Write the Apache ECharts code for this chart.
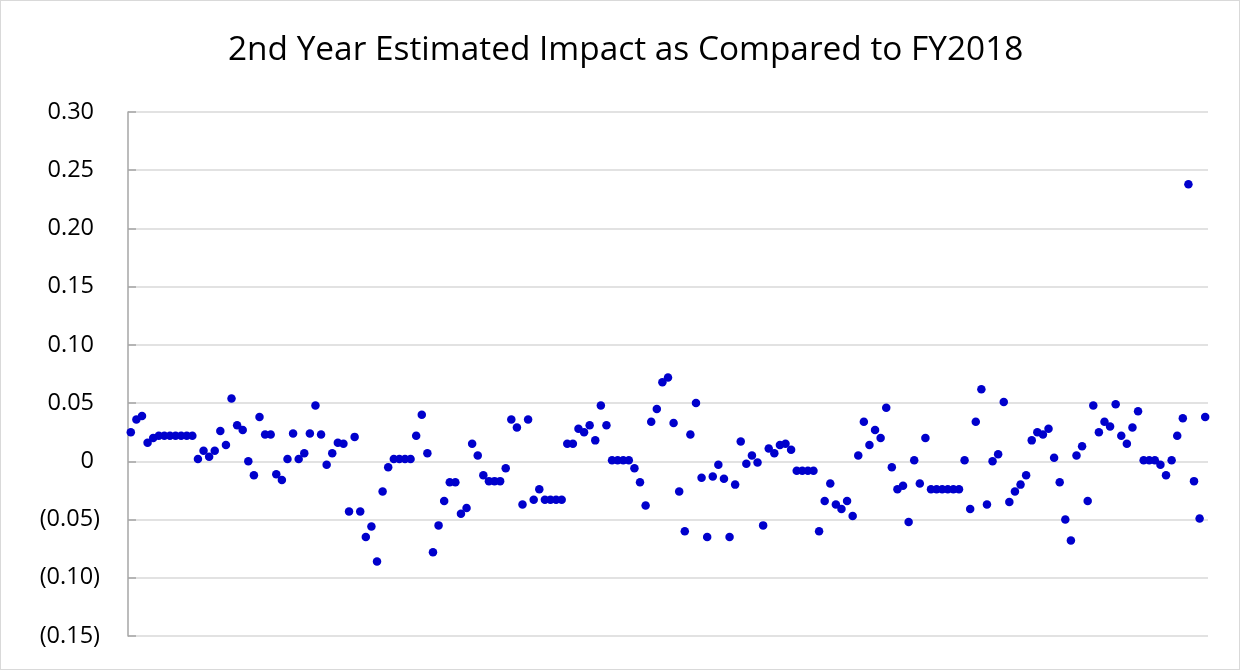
<!DOCTYPE html>
<html>
<head>
<meta charset="utf-8">
<script src="https://cdn.jsdelivr.net/npm/echarts@6/dist/echarts.min.js"></script>
<style>
  html, body { margin: 0; padding: 0; background: #ffffff; }
  #frame { position: absolute; left: 0; top: 0; width: 1238px; height: 668px; border: 1px solid #d9d9d9; }
  #chart { position: absolute; left: 0; top: 0; width: 1240px; height: 670px; }
</style>
</head>
<body>
<div id="frame"></div>
<div id="chart"></div>
<script>
const titleText = '2nd Year Estimated Impact as Compared to FY2018';
const yTicks = [-0.15, -0.10, -0.05, 0, 0.05, 0.10, 0.15, 0.20, 0.25, 0.30];
const impact = [
  0.025, 0.036, 0.039, 0.016, 0.020, 0.022, 0.022, 0.022, 0.022, 0.022,
  0.022, 0.022, 0.002, 0.009, 0.004, 0.009, 0.026, 0.014, 0.054, 0.031,
  0.027, 0.000, -0.012, 0.038, 0.023, 0.023, -0.011, -0.016, 0.002, 0.024,
  0.002, 0.007, 0.024, 0.048, 0.023, -0.003, 0.007, 0.016, 0.015, -0.043,
  0.021, -0.043, -0.065, -0.056, -0.086, -0.026, -0.005, 0.002, 0.002, 0.002,
  0.002, 0.022, 0.040, 0.007, -0.078, -0.055, -0.034, -0.018, -0.018, -0.045,
  -0.040, 0.015, 0.005, -0.012, -0.017, -0.017, -0.017, -0.006, 0.036, 0.029,
  -0.037, 0.036, -0.033, -0.024, -0.033, -0.033, -0.033, -0.033, 0.015, 0.015,
  0.028, 0.025, 0.031, 0.018, 0.048, 0.031, 0.001, 0.001, 0.001, 0.001,
  -0.006, -0.018, -0.038, 0.034, 0.045, 0.068, 0.072, 0.033, -0.026, -0.060,
  0.023, 0.050, -0.014, -0.065, -0.013, -0.003, -0.015, -0.065, -0.020, 0.017,
  -0.002, 0.005, -0.001, -0.055, 0.011, 0.007, 0.014, 0.015, 0.010, -0.008,
  -0.008, -0.008, -0.008, -0.060, -0.034, -0.019, -0.037, -0.041, -0.034, -0.047,
  0.005, 0.034, 0.014, 0.027, 0.020, 0.046, -0.005, -0.024, -0.021, -0.052,
  0.001, -0.019, 0.020, -0.024, -0.024, -0.024, -0.024, -0.024, -0.024, 0.001,
  -0.041, 0.034, 0.062, -0.037, 0.000, 0.006, 0.051, -0.035, -0.026, -0.020,
  -0.012, 0.018, 0.025, 0.023, 0.028, 0.003, -0.018, -0.050, -0.068, 0.005,
  0.013, -0.034, 0.048, 0.025, 0.034, 0.030, 0.049, 0.022, 0.015, 0.029,
  0.043, 0.001, 0.001, 0.001, -0.003, -0.012, 0.001, 0.022, 0.037, 0.238,
  -0.017, -0.049, 0.038
];

const points = impact.map((v, i) => [i + 1, v]);

function fmt(v) {
  const r = Math.round(v * 100) / 100;
  if (Math.abs(r) < 1e-9) return '{p|0}';
  if (r < 0) return '{n|(' + Math.abs(r).toFixed(2) + ')}';
  return '{p|' + r.toFixed(2) + '}';
}

const chart = echarts.init(document.getElementById('chart'), null, { renderer: 'canvas' });
chart.setOption({
  animation: false,
  backgroundColor: 'transparent',
  title: {
    text: titleText,
    left: 223,
    top: 29,
    textStyle: { fontFamily: 'Open Sans', fontSize: 33.4, fontWeight: 'normal', color: '#000000' }
  },
  grid: { left: 128, right: 32, top: 112, bottom: 34, containLabel: false },
  xAxis: {
    type: 'value',
    min: 0.5,
    max: impact.length + 0.5,
    axisLine: { show: false },
    axisTick: { show: false },
    axisLabel: { show: false },
    splitLine: { show: false }
  },
  yAxis: {
    type: 'value',
    min: yTicks[0],
    max: yTicks[yTicks.length - 1],
    interval: 0.05,
    axisLine: { show: true, lineStyle: { color: '#a6a6a6', width: 1.5 } },
    axisTick: { show: true, inside: true, length: 8, lineStyle: { color: '#a6a6a6', width: 1.5 } },
    axisLabel: {
      margin: 28,
      formatter: fmt,
      rich: {
        p: { fontFamily: 'Open Sans', fontSize: 23.5, color: '#000000', padding: [0, 6, 0, 0] },
        n: { fontFamily: 'Open Sans', fontSize: 23.5, color: '#000000' }
      }
    },
    splitLine: { show: true, lineStyle: { color: '#d9d9d9', width: 1.5 } }
  },
  series: [{
    type: 'scatter',
    data: points,
    symbol: 'circle',
    symbolSize: 8.5,
    itemStyle: { color: '#0000cc', opacity: 1 }
  }]
});
</script>
</body>
</html>
